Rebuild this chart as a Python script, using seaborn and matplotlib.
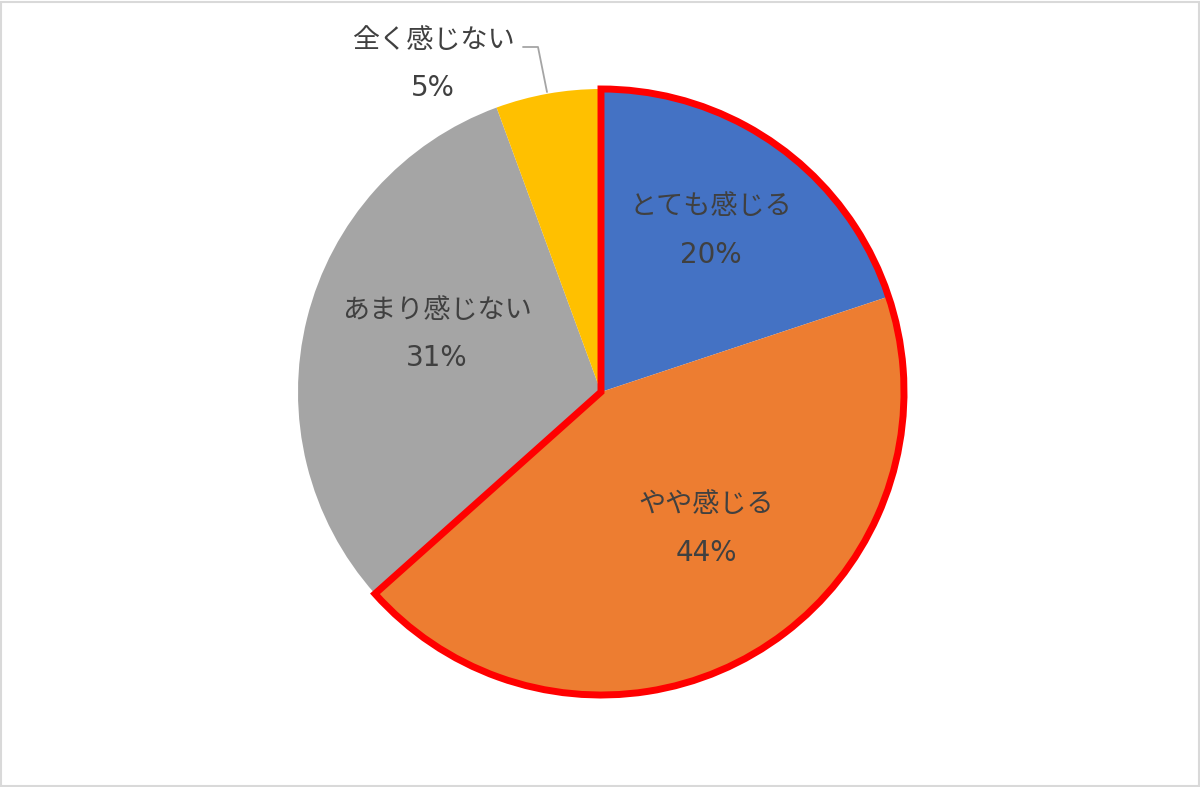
import matplotlib
matplotlib.use("Agg")
import matplotlib.pyplot as plt
import matplotlib.patches as mpatches
import seaborn as sns

# slice data (clockwise from 12 o'clock)
categories = ["とても感じる", "やや感じる", "あまり感じない", "全く感じない"]
values = [19.9, 43.5, 31.0, 5.6]
pct_labels = ["20%", "44%", "31%", "5%"]
colors = ["#4472C4", "#ED7D31", "#A5A5A5", "#FFC000"]
# slices that get the red outline
highlight = ["とても感じる", "やや感じる"]

sns.set_theme(style="white")
plt.rcParams["font.family"] = ["Noto Sans CJK JP", "DejaVu Sans"]

W, H = 1200, 787
fig = plt.figure(figsize=(12, 7.87), dpi=100)
ax = fig.add_axes([0, 0, 1, 1])

cx, cy, r = 601, H - 392, 303
ax.pie(values, colors=colors, startangle=90, counterclock=False,
       center=(cx, cy), radius=r, wedgeprops=dict(linewidth=0))

# pie() resets the limits, so set them afterwards
ax.set_xlim(0, W)
ax.set_ylim(0, H)
ax.set_aspect("equal")
ax.axis("off")

# red outline around the highlighted slices
total = sum(values)
share = sum(v for c, v in zip(categories, values) if c in highlight) / total
outline = mpatches.Wedge((cx, cy), r, 90 - share * 360, 90, fill=False,
                         edgecolor="#FF0000", linewidth=5, joinstyle="miter")
ax.add_patch(outline)

# label positions in pixel coords (top-left origin)
label_pos = [(711, 207), (706, 505), (437, 310), (433, 40)]
txt_color = "#404040"
for cat, pct, (lx, ly) in zip(categories, pct_labels, label_pos):
    ax.text(lx, H - ly, cat, ha="center", va="center", fontsize=19.5, color=txt_color)
    ax.text(lx, H - ly - 48, pct, ha="center", va="center", fontsize=20,
            color=txt_color, family=["DejaVu Sans", "Noto Sans CJK JP"])

# leader line for the small slice
ax.plot([523, 538, 547], [H - 47, H - 47, H - 92], color="#A5A5A5", lw=1.3)

# outer frame
fig.patches.append(mpatches.Rectangle((0.001, 0.001), 0.998, 0.997,
                                      transform=fig.transFigure, fill=False,
                                      edgecolor="#D9D9D9", linewidth=1.5))

fig.savefig("out.png", dpi=100)
